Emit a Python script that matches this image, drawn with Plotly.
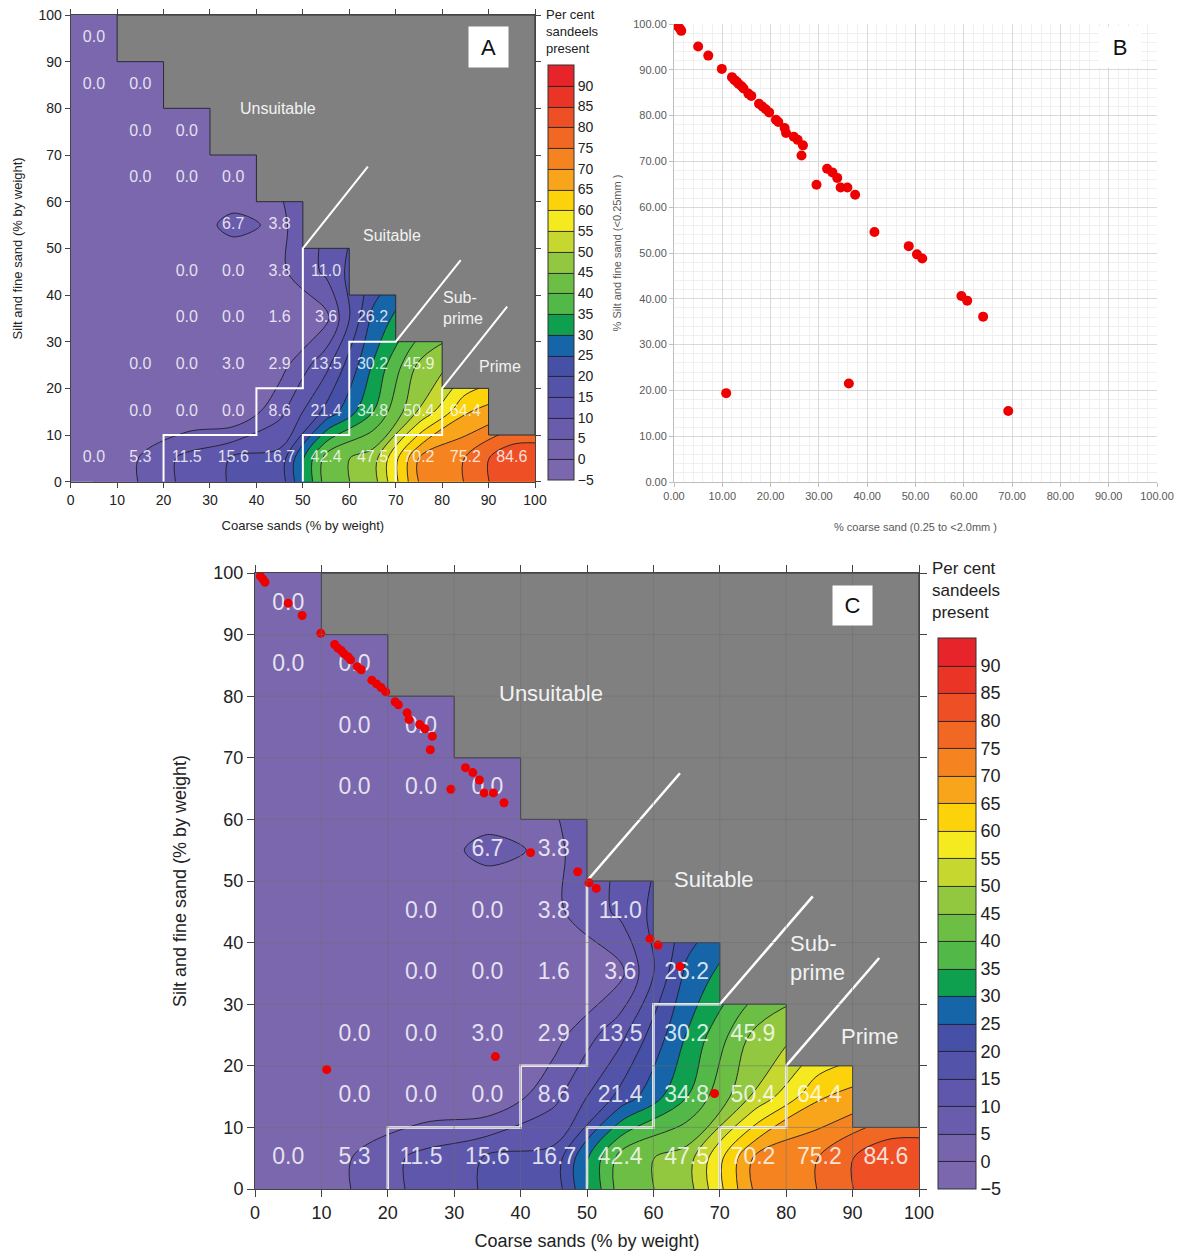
import numpy as np
import plotly.graph_objects as go

# ---------------- data ----------------
coarse_centres = [5, 15, 25, 35, 45, 55, 65, 75, 85, 95]
silt_centres = [5, 15, 25, 35, 45, 55, 65, 75, 85, 95]
N = None
# per cent sandeels present, one list per silt row (bottom row first)
pct_silt_05 = [0.0, 5.3, 11.5, 15.6, 16.7, 42.4, 47.5, 70.2, 75.2, 84.6]
pct_silt_15 = [N, 0.0, 0.0, 0.0, 8.6, 21.4, 34.8, 50.4, 64.4, N]
pct_silt_25 = [N, 0.0, 0.0, 3.0, 2.9, 13.5, 30.2, 45.9, N, N]
pct_silt_35 = [N, N, 0.0, 0.0, 1.6, 3.6, 26.2, N, N, N]
pct_silt_45 = [N, N, 0.0, 0.0, 3.8, 11.0, N, N, N, N]
pct_silt_55 = [N, N, N, 6.7, 3.8, N, N, N, N, N]
pct_silt_65 = [N, 0.0, 0.0, 0.0, N, N, N, N, N, N]
pct_silt_75 = [N, 0.0, 0.0, N, N, N, N, N, N, N]
pct_silt_85 = [0.0, 0.0, N, N, N, N, N, N, N, N]
pct_silt_95 = [0.0, N, N, N, N, N, N, N, N, N]
pct_rows = [pct_silt_05, pct_silt_15, pct_silt_25, pct_silt_35, pct_silt_45,
            pct_silt_55, pct_silt_65, pct_silt_75, pct_silt_85, pct_silt_95]

cbar_ticks = [-5, 0, 5, 10, 15, 20, 25, 30, 35, 40, 45, 50, 55, 60, 65, 70, 75, 80, 85, 90]
band_colors = ["#7b67ae", "#7664ad", "#6a5cad", "#5e57ab", "#5253a9", "#4550a6",
               "#1565a8", "#0fa04f", "#52b848", "#6dbe45", "#92c840", "#c6d72f",
               "#f5ea1f", "#fcd20b", "#f8a51c", "#f58420", "#f06823", "#ee4f25",
               "#ea3526", "#e6242a"]

# sediment samples (% coarse sand, % silt and fine sand)
sample_coarse = [0.8, 1.2, 1.5, 5.0, 7.1, 9.9, 12.0, 12.5, 13.0, 13.4, 14.0, 14.4,
                 15.4, 16.0, 17.6, 18.3, 19.0, 19.7, 21.1, 21.6, 22.9, 23.2, 24.8,
                 25.6, 26.7, 26.4, 29.5, 31.7, 32.8, 33.8, 34.5, 35.9, 37.5, 41.5,
                 48.6, 50.3, 51.4, 59.5, 60.7, 64.0, 10.8, 36.2, 69.2]
sample_silt = [99.5, 99.0, 98.5, 95.1, 93.1, 90.2, 88.4, 87.8, 87.4, 86.9, 86.4, 85.9,
               84.8, 84.3, 82.6, 82.0, 81.4, 80.7, 79.1, 78.6, 77.3, 76.2, 75.4,
               74.7, 73.5, 71.3, 64.9, 68.4, 67.6, 66.4, 64.3, 64.3, 62.7, 54.6,
               51.5, 49.7, 48.8, 40.6, 39.6, 36.1, 19.4, 21.5, 15.5]

# habitat class boundaries (white lines)
suitable_x = [64, 50, 50, 40, 40, 20, 20]
suitable_y = [67.5, 50, 20, 20, 10, 10, 0]
subprime_x = [84, 70, 60, 60, 50, 50]
subprime_y = [47.5, 30, 30, 10, 10, 0]
prime_x = [94, 80, 80, 70, 70]
prime_y = [37.5, 20, 10, 10, 0]

PAGE_W, PAGE_H = 1182, 1259
OFF = 8                      # page body margin
W, H = PAGE_W - 2 * OFF, PAGE_H - 2 * OFF
FONT = "Liberation Sans"

# ---------------- derived tables ----------------
Z = np.array(pct_rows, dtype=float)
Zp = np.pad(Z, 1, mode="edge")
xp = [0] + coarse_centres + [100]
yp = [0] + silt_centres + [100]


def scale_of(colors):
    k = len(colors)
    return [[i / (k - 1), c] for i, c in enumerate(colors)]


cs_bar = scale_of(band_colors)                         # levels 0..90 (colour bar)
cs_map = scale_of([band_colors[0]] + band_colors[2:])  # levels 5..90 (map)

lab_x, lab_y, lab_t = [], [], []
for j, yc in enumerate(silt_centres):
    for i, xc in enumerate(coarse_centres):
        v = Z[j, i]
        if not np.isnan(v):
            lab_x.append(xc); lab_y.append(yc); lab_t.append(f"{v:.1f}")

# unsampled region: coarse + silt > 100 (cell staircase)
gx, gy = [coarse_centres[1] - 5], [100]
for xc in coarse_centres[1:]:
    left = xc - 5
    gx += [left, left + 10]
    gy += [100 - left, 100 - left]
gx += [100, gx[0]]
gy += [100, 100]


def px(x):
    return (x - OFF) / W


def py(y):
    return 1 - (y - OFF) / H


fig = go.Figure()


def add_panel(xa, ya, cb, lab_size, line_w, ann_size, ann_pos):
    # colour-bar carrier (fully covered by the map contour drawn next)
    fig.add_trace(go.Contour(
        x=xp, y=yp, z=Zp, xaxis=xa, yaxis=ya, connectgaps=True, autocontour=False,
        contours=dict(start=0, end=90, size=5, coloring="fill", showlines=True),
        line=dict(color="#1e1e28", width=0.9),
        colorscale=cs_bar, zmin=-5, zmax=95, zauto=False,
        colorbar=cb, hoverinfo="skip"))
    fig.add_trace(go.Contour(
        x=xp, y=yp, z=Zp, xaxis=xa, yaxis=ya, connectgaps=True, autocontour=False,
        contours=dict(start=5, end=90, size=5, coloring="fill", showlines=True),
        line=dict(color="#1e1e28", width=0.9),
        colorscale=cs_map, zmin=-5, zmax=95, zauto=False,
        showscale=False, hoverinfo="skip"))
    fig.add_trace(go.Scatter(
        x=gx, y=gy, xaxis=xa, yaxis=ya, mode="lines", fill="toself",
        fillcolor="#808080", line=dict(color="#2a2a35", width=1),
        hoverinfo="skip", showlegend=False))
    for bx, by in [(suitable_x, suitable_y), (subprime_x, subprime_y), (prime_x, prime_y)]:
        fig.add_trace(go.Scatter(
            x=bx, y=by, xaxis=xa, yaxis=ya, mode="lines",
            line=dict(color="white", width=line_w), hoverinfo="skip", showlegend=False))
    fig.add_trace(go.Scatter(
        x=lab_x, y=lab_y, text=lab_t, mode="text", xaxis=xa, yaxis=ya,
        textfont=dict(size=lab_size, color="rgba(255,255,255,0.82)", family=FONT),
        hoverinfo="skip", showlegend=False))
    names = ["Unsuitable", "Suitable", "Sub-<br>prime", "Prime"]
    for name, (ax_, ay_) in zip(names, ann_pos):
        fig.add_annotation(x=ax_, y=ay_, xref=xa, yref=ya, text=name, showarrow=False,
                           align="left", font=dict(size=ann_size, color="#f2f2f2", family=FONT))


# Panel A
cbA = dict(x=px(548), xanchor="left", xpad=0, y=py(480), yanchor="bottom", ypad=0,
           len=415, lenmode="pixels", thickness=26, thicknessmode="pixels",
           outlinewidth=1, outlinecolor="#333", tickvals=cbar_ticks, ticks="",
           tickfont=dict(size=14, color="#222", family=FONT))
add_panel("x", "y", cbA, 16, 2, 16,
          [(44.7, 80), (69.2, 52.7), (84.5, 37.3), (92.5, 24.6)])

# Panel C
cbC = dict(x=px(938), xanchor="left", xpad=0, y=py(1189), yanchor="bottom", ypad=0,
           len=551, lenmode="pixels", thickness=38, thicknessmode="pixels",
           outlinewidth=1, outlinecolor="#333", tickvals=cbar_ticks, ticks="",
           tickfont=dict(size=18, color="#222", family=FONT))
add_panel("x3", "y3", cbC, 23, 2.5, 22,
          [(44.6, 80.4), (69.1, 50.2), (84.7, 37.5), (92.5, 24.7)])

# Panel B scatter
fig.add_trace(go.Scatter(x=sample_coarse, y=sample_silt, xaxis="x2", yaxis="y2",
                         mode="markers", marker=dict(color="#ee0000", size=10),
                         hoverinfo="skip", showlegend=False))
# samples overlaid on C
fig.add_trace(go.Scatter(x=sample_coarse, y=sample_silt, xaxis="x3", yaxis="y3",
                         mode="markers", marker=dict(color="#ee0000", size=9),
                         hoverinfo="skip", showlegend=False))

# grid of B carried over on C
shapes = []
for v in range(10, 100, 10):
    shapes.append(dict(type="line", xref="x3", yref="y3", x0=v, x1=v, y0=0, y1=100,
                       line=dict(color="rgba(110,110,110,0.5)", width=1), layer="above"))
    shapes.append(dict(type="line", xref="x3", yref="y3", x0=0, x1=100, y0=v, y1=v,
                       line=dict(color="rgba(110,110,110,0.5)", width=1), layer="above"))


def sci_axis(dom, tsize, title, tfs, standoff, anchor, ticklen):
    return dict(domain=dom, range=[0, 100], dtick=10, ticks="outside", ticklen=ticklen,
                tickcolor="#444", showline=True, linecolor="#444", linewidth=1,
                mirror="ticks", showgrid=False, zeroline=False, anchor=anchor,
                automargin=False, ticklabeloverflow="allow",
                tickfont=dict(size=tsize, color="#222", family=FONT),
                title=dict(text=title, font=dict(size=tfs, color="#222", family=FONT),
                           standoff=standoff))


xA = sci_axis([px(70.7), px(535)], 14, "Coarse sands (% by weight)", 13, 14, "y", 5)
yA = sci_axis([py(481.7), py(15)], 14, "Silt and fine sand (% by weight)", 13, 12, "x", 5)
xC = sci_axis([px(255), px(919)], 18, "Coarse sands (% by weight)", 18, 20, "y3", 7)
yC = sci_axis([py(1189), py(573)], 18, "Silt and fine sand (% by weight)", 18, 22, "x3", 7)

bfont = dict(size=11, color="#595959", family=FONT)
xB = dict(domain=[px(674), px(1157)], range=[0, 100], dtick=10, tickformat=".2f",
          showgrid=True, gridcolor="#d9d9d9", gridwidth=1, automargin=False,
          ticklabeloverflow="allow",
          minor=dict(dtick=2, showgrid=True, gridcolor="#f0f0f0", gridwidth=1),
          showline=True, linecolor="#bfbfbf", ticks="outside", ticklen=4, tickcolor="#bfbfbf",
          zeroline=False, tickfont=bfont, anchor="y2",
          title=dict(text="% coarse sand (0.25 to <2.0mm )", font=bfont, standoff=22))
yB = dict(domain=[py(482), py(24)], range=[0, 100], dtick=10, tickformat=".2f",
          showgrid=True, gridcolor="#d9d9d9", gridwidth=1, automargin=False,
          ticklabeloverflow="allow",
          minor=dict(dtick=2, showgrid=True, gridcolor="#f0f0f0", gridwidth=1),
          showline=True, linecolor="#bfbfbf", ticks="outside", ticklen=4, tickcolor="#bfbfbf",
          zeroline=False, tickfont=bfont, anchor="x2",
          title=dict(text="% Silt and fine sand (<0.25mm )", font=bfont, standoff=9))

annotations = list(fig.layout.annotations)
# panel letters
for letter, cx, cy, w, h in [("A", 488.5, 47, 37, 38), ("B", 1120, 47, 40, 38),
                             ("C", 852.5, 605.5, 37, 37)]:
    annotations.append(dict(x=px(cx), y=py(cy), xref="paper", yref="paper", text=letter,
                            showarrow=False, xanchor="center", yanchor="middle",
                            width=w, height=h, bgcolor="white",
                            font=dict(size=22, color="#111", family=FONT)))
# colour bar titles
annotations.append(dict(x=px(544), y=py(5), xref="paper", yref="paper",
                        text="Per cent<br>sandeels<br>present", showarrow=False,
                        xanchor="left", yanchor="top", align="left",
                        font=dict(size=13, color="#222", family=FONT)))
annotations.append(dict(x=px(930), y=py(557), xref="paper", yref="paper",
                        text="Per cent<br>sandeels<br>present", showarrow=False,
                        xanchor="left", yanchor="top", align="left",
                        font=dict(size=17, color="#222", family=FONT)))

fig.update_layout(
    template="none",
    width=W, height=H, margin=dict(l=0, r=0, t=0, b=0, autoexpand=False),
    paper_bgcolor="white", plot_bgcolor="white", showlegend=False,
    font=dict(family=FONT),
    xaxis=xA, yaxis=yA, xaxis2=xB, yaxis2=yB, xaxis3=xC, yaxis3=yC,
    shapes=shapes, annotations=annotations,
)

fig.write_html("out.html")
